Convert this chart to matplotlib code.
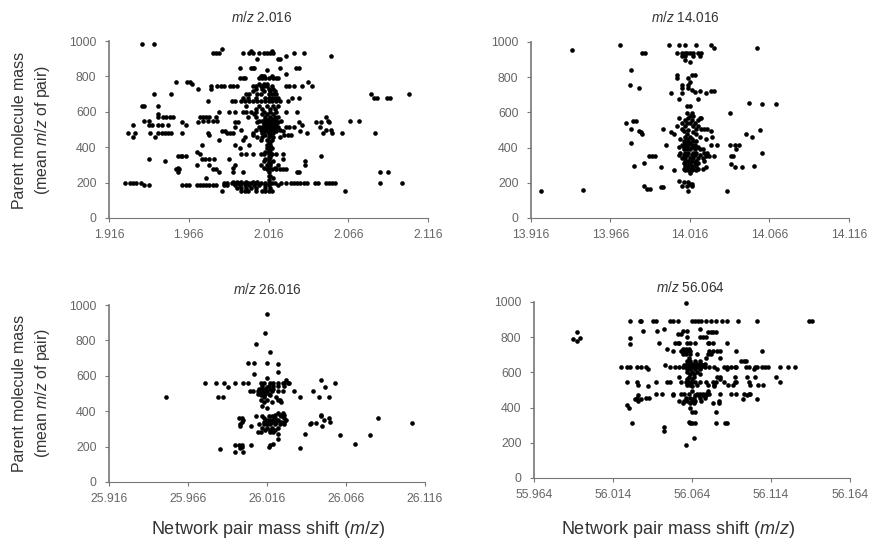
import matplotlib
matplotlib.use('Agg')
import matplotlib.pyplot as plt

plt.rcParams['font.family'] = ['Liberation Sans', 'DejaVu Sans']
plt.rcParams['mathtext.fontset'] = 'custom'
plt.rcParams['mathtext.rm'] = 'Liberation Sans'
plt.rcParams['mathtext.it'] = 'Liberation Sans:italic'

# each dict: parent mass -> mass shifts seen at that mass
rows_2 = {
    985: [1.937, 1.944], 955: [1.987],
    935: [1.981, 1.983, 1.985, 2.000, 2.004, 2.006, 2.010, 2.013, 2.015, 2.017, 2.019, 2.032, 2.038],
    945: [2.018, 2.005], 915: [2.027, 2.055], 900: [2.009, 2.022, 2.023],
    845: [1.998, 2.005, 2.006, 2.007, 2.023, 2.033, 2.035], 835: [2.015], 815: [2.027],
    805: [2.011, 2.012, 2.013, 2.018],
    790: [1.998, 2.000, 2.001, 2.010, 2.012, 2.014, 2.016, 2.019, 2.021, 2.022],
    770: [1.958, 1.965, 1.967, 2.041], 755: [1.968, 2.010, 2.013, 2.015],
    745: [1.980, 1.984, 1.986, 1.988, 1.992, 1.994, 1.996, 2.006, 2.008, 2.011, 2.013, 2.015, 2.018, 2.027, 2.029, 2.032, 2.037, 2.043],
    730: [1.972, 1.980, 2.008, 2.012, 2.016, 2.019],
    715: [2.006, 2.013, 2.017, 2.020],
    700: [1.944, 1.955, 2.002, 2.004, 2.009, 2.011, 2.016, 2.017, 2.019, 2.021, 2.080, 2.104],
    680: [2.082, 2.084, 2.090, 2.092, 2.031, 2.035, 2.000, 2.003, 2.008, 2.014, 2.016, 2.018, 2.020, 2.022],
    660: [1.978, 1.993, 1.995, 1.999, 2.001, 2.004, 2.006, 2.009, 2.011, 2.014, 2.016, 2.018, 2.021, 2.023, 2.028],
    635: [1.937, 1.938, 1.947, 2.002, 2.010, 2.015, 2.019, 2.022],
    615: [2.008, 2.012, 2.017, 2.020],
    600: [1.985, 1.991, 1.995, 2.000, 2.002, 2.005, 2.008, 2.013, 2.017, 2.021, 2.027, 2.034],
    590: [1.947, 2.007, 2.012, 2.015, 2.019],
    570: [1.947, 1.950, 1.952, 1.954, 1.956, 1.973, 1.975, 1.977, 1.979, 1.983, 2.003, 2.008, 2.014, 2.017, 2.020, 2.022, 2.052],
    560: [2.014, 2.016, 2.018, 2.020],
    550: [1.938, 1.941, 1.975, 1.978, 1.981, 1.984, 2.010, 2.012, 2.015, 2.018, 2.021, 2.024, 2.067, 2.073, 2.053],
    540: [1.962, 1.972, 1.995, 1.997, 2.009, 2.013, 2.016, 2.019, 2.022, 2.035, 2.046, 2.049, 2.054],
    530: [2.013, 2.015, 2.017, 2.019, 2.021],
    525: [1.931, 1.941, 1.943, 1.947, 1.949, 1.953, 1.964, 2.037, 2.014, 2.017, 2.020],
    515: [1.995, 2.010, 2.013, 2.016, 2.018, 2.021, 2.027, 2.029, 2.032, 2.048, 2.012, 2.015, 2.019, 2.022],
    505: [2.013, 2.015, 2.017, 2.019],
    500: [1.999, 2.008, 2.011, 2.014, 2.017, 2.020, 2.023, 2.052, 2.055],
    490: [1.987, 1.989, 2.013, 2.015, 2.018, 2.021, 2.036, 2.025],
    480: [1.928, 1.932, 1.942, 1.947, 1.949, 1.951, 1.953, 1.955, 1.962, 1.978, 1.990, 1.992, 1.994, 2.006, 2.012, 2.016, 2.019, 2.040, 2.050, 2.056, 2.062, 2.083],
    470: [1.979, 2.006, 2.014, 2.017, 2.026, 2.028, 2.030],
    460: [1.931, 1.945, 2.001, 2.009, 2.012, 2.016, 2.019, 2.023],
    440: [1.985, 2.000, 2.011, 2.015, 2.018], 428: [2.016, 2.017], 415: [1.974, 1.995, 2.004, 2.015, 2.017],
    405: [2.016, 2.017], 395: [1.998, 2.015, 2.016, 2.018], 385: [2.016, 2.017], 375: [1.971, 2.014, 2.016],
    368: [2.016, 2.017],
    360: [1.973, 1.999, 2.002, 2.006, 2.011, 2.013, 2.016, 2.018, 2.021, 2.025],
    352: [1.959, 1.961, 1.962, 1.964, 2.049],
    345: [2.016, 2.017],
    335: [1.941, 1.974, 1.976, 1.979, 1.982, 1.991, 2.014, 2.016, 2.025],
    320: [1.951, 2.039, 2.013, 2.016, 2.019], 310: [2.016, 2.017],
    300: [1.971, 1.979, 1.995, 2.011, 2.015, 2.017, 2.022, 2.039],
    285: [1.959, 1.994, 2.013, 2.016, 2.020],
    275: [1.958, 1.960, 1.981, 1.983, 2.015, 2.018, 2.021, 2.023, 2.025, 2.027],
    258: [1.959, 1.985, 1.994, 2.000, 2.034, 2.035, 2.086, 2.091, 2.016],
    240: [2.016, 2.017], 225: [1.977, 2.019], 215: [2.016],
    205: [1.994, 1.996, 1.999, 2.002, 2.006, 2.009],
    200: [1.926, 1.929, 1.931, 1.933, 1.936, 1.988, 1.990, 1.993, 1.995, 1.997, 1.999, 2.001, 2.003, 2.005, 2.007, 2.009, 2.011, 2.014, 2.016, 2.018, 2.020, 2.024, 2.027, 2.030, 2.032, 2.034, 2.036, 2.038, 2.040, 2.045, 2.047, 2.052, 2.054, 2.056, 2.058, 2.086, 2.100],
    188: [1.938, 1.941, 1.962, 1.964, 1.966, 1.971, 1.973, 1.975, 1.977, 1.979, 1.981, 1.983, 1.988, 1.990, 1.995, 1.998, 2.001, 2.004, 2.007, 2.010, 2.014, 2.016, 2.022],
    170: [1.996, 1.999, 2.002, 2.005, 2.008, 2.014, 2.017],
    155: [1.987, 1.999, 2.001, 2.003, 2.008, 2.012, 2.014, 2.016, 2.018],
    150: [2.064],
}

rows_14 = {
    985: [13.972, 14.003, 14.009, 14.013, 14.020, 14.029], 968: [14.031, 14.058],
    953: [13.942], 940: [13.986, 13.988, 14.008], 935: [14.011, 14.013, 14.014, 14.016, 14.018, 14.021, 14.023],
    918: [14.011, 14.013, 14.018, 14.022], 900: [14.013], 885: [14.016],
    840: [13.979], 810: [14.008, 14.017, 14.019], 795: [14.008, 14.015], 770: [14.016], 755: [13.978, 14.011, 14.015],
    740: [13.984, 14.011, 14.015], 730: [14.017], 720: [14.022, 14.029, 14.031], 715: [14.019],
    710: [14.004, 14.011, 14.026], 675: [14.009, 14.021], 655: [14.053], 647: [14.061, 14.070],
    635: [14.014, 14.016], 598: [14.041, 14.014, 14.017], 580: [14.016, 14.018],
    570: [14.009, 14.015, 14.022, 14.023], 555: [14.013, 14.017, 14.021], 552: [13.980, 13.982],
    540: [13.976, 14.011, 14.014, 14.016, 14.019], 525: [14.008, 14.013, 14.018, 14.021],
    503: [13.979, 13.999, 14.011, 14.020, 14.023, 14.025, 14.027], 498: [14.060, 14.015],
    495: [13.984, 14.012, 14.029], 487: [13.985, 14.004, 14.018], 475: [13.986, 14.006, 14.051, 14.014, 14.020],
    462: [14.055, 14.013, 14.016, 14.022, 14.030], 450: [14.010, 14.014, 14.017, 14.026],
    435: [14.012, 14.015, 14.018, 14.020], 428: [13.979, 14.013, 14.016],
    417: [14.001, 14.029, 14.033, 14.041, 14.044, 14.047, 14.011, 14.014, 14.017, 14.019],
    405: [14.009, 14.012, 14.015, 14.018, 14.021], 390: [14.045, 14.012, 14.014, 14.016, 14.019, 14.022, 14.024],
    372: [14.061, 14.010, 14.013, 14.015, 14.018, 14.020, 14.025, 14.027],
    360: [14.009, 14.012, 14.014, 14.017, 14.019, 14.022],
    355: [13.990, 13.992, 13.994, 14.042, 14.043, 14.026, 14.028, 14.031],
    340: [14.011, 14.013, 14.016, 14.018, 14.021, 14.024], 325: [14.013, 14.015, 14.017, 14.020, 14.025],
    310: [13.987, 14.012, 14.014, 14.016, 14.019, 14.021], 304: [14.042],
    294: [13.981, 14.056, 14.013, 14.015, 14.017, 14.020], 289: [13.998, 14.044, 14.049, 14.026],
    280: [14.012, 14.014, 14.016, 14.018, 14.021, 14.024], 270: [14.006, 14.013, 14.015, 14.017, 14.020],
    258: [14.016], 208: [14.009], 205: [14.012, 14.015], 195: [14.016, 14.017],
    183: [13.987, 14.011, 14.014, 14.017], 175: [13.998, 13.999], 164: [13.989, 13.991], 158: [13.949],
    153: [13.922, 14.015, 14.039],
}

rows_26 = {
    951: [26.016], 840: [26.015], 777: [26.009], 732: [26.018], 670: [26.004, 26.008, 26.016],
    664: [26.023], 619: [26.023], 608: [26.008], 590: [26.016], 575: [26.028, 26.050],
    562: [26.004, 26.027, 26.029], 557: [25.977, 25.984, 25.989, 25.996, 26.001, 26.012, 26.014, 26.018, 26.020, 26.023, 26.026, 26.030, 26.059],
    545: [26.013, 26.017, 26.020, 26.023, 26.027], 536: [25.991, 26.016, 26.053],
    525: [26.011, 26.013, 26.015, 26.018, 26.020],
    513: [26.005, 26.007, 26.010, 26.012, 26.014, 26.016, 26.019, 26.023, 26.026, 26.033, 26.045],
    500: [26.010, 26.012, 26.015, 26.017], 490: [26.012, 26.014, 26.018],
    479: [25.952, 25.985, 25.988, 26.014, 26.022, 26.037, 26.049, 26.055],
    465: [26.012, 26.016, 26.023, 26.024], 450: [26.014, 26.019, 26.025],
    428: [26.013], 420: [26.016], 388: [26.023, 26.026], 380: [26.021, 26.024, 26.027, 26.050],
    372: [26.009, 26.013, 26.017, 26.019, 26.025, 26.050], 362: [25.998, 26.000, 26.014, 26.021, 26.027, 26.055, 26.086],
    352: [26.016, 26.018, 26.020, 26.023, 26.028, 26.001, 26.052],
    340: [26.000, 26.014, 26.017, 26.019, 26.022, 26.025, 26.027, 26.056],
    335: [26.044, 26.047, 26.108], 325: [26.011, 26.014, 26.016, 26.018, 26.021, 26.024, 26.027, 26.043, 25.999],
    318: [25.999, 26.006, 26.051], 305: [26.013, 26.016, 26.019, 26.023], 295: [26.015, 26.018, 26.021],
    280: [26.010, 26.012, 26.018, 26.020], 272: [26.023, 26.040], 264: [26.062, 26.081], 245: [26.023],
    215: [26.020, 26.072], 210: [25.996, 25.998, 26.000, 26.006, 26.018], 200: [26.017, 26.000],
    192: [26.037, 25.999], 185: [25.986], 172: [25.996, 26.001],
}

rows_56 = {
    994: [56.060], 890: [56.025, 56.031, 56.032, 56.039, 56.041, 56.050, 56.052, 56.055, 56.064, 56.066, 56.068, 56.070, 56.073, 56.076, 56.079, 56.083, 56.086, 56.093, 56.105, 56.138, 56.140],
    847: [56.046, 56.069], 835: [56.033, 56.042, 56.058, 56.061], 830: [55.991, 56.074, 56.076, 56.077, 56.079],
    818: [56.055, 56.057], 800: [56.061, 56.069, 56.071, 56.073], 795: [55.993, 56.025], 790: [55.989], 779: [55.991],
    765: [56.043, 56.053, 56.055, 56.056, 56.061, 56.063, 56.066, 56.074, 56.075, 56.077, 56.086], 760: [56.025],
    735: [56.048, 56.058, 56.060, 56.062], 720: [56.052, 56.057, 56.059, 56.061, 56.063, 56.075, 56.077, 56.080, 56.082, 56.092, 56.108],
    705: [56.058, 56.060, 56.063, 56.067, 56.074, 56.076], 680: [56.062, 56.073, 56.082],
    665: [56.061, 56.063, 56.066, 56.069, 56.095, 56.097, 56.098], 650: [56.061, 56.064, 56.067, 56.070, 56.072],
    640: [56.047, 56.059, 56.062, 56.065, 56.068, 56.071],
    630: [56.019, 56.023, 56.025, 56.029, 56.032, 56.035, 56.050, 56.053, 56.056, 56.058, 56.060, 56.062, 56.064, 56.066, 56.068, 56.070, 56.072, 56.075, 56.078, 56.084, 56.086, 56.089, 56.091, 56.092, 56.098, 56.100, 56.104, 56.105, 56.108, 56.110, 56.112, 56.120, 56.125, 56.129],
    620: [56.061, 56.063, 56.066, 56.069, 56.036, 56.080, 56.086, 56.103],
    605: [56.061, 56.064, 56.067], 590: [56.063, 56.065, 56.069],
    575: [56.056, 56.062, 56.065, 56.080, 56.082, 56.091, 56.099, 56.104, 56.117],
    560: [56.061, 56.064, 56.082],
    545: [56.023, 56.029, 56.041, 56.048, 56.050, 56.057, 56.060, 56.062, 56.064, 56.066, 56.069, 56.073, 56.077, 56.079, 56.084, 56.091, 56.092, 56.100, 56.120],
    530: [56.030, 56.061, 56.063, 56.067, 56.074, 56.078, 56.087, 56.090, 56.101, 56.106, 56.109],
    520: [56.036, 56.064, 56.078],
    495: [56.064, 56.074], 480: [56.041, 56.045, 56.052, 56.057, 56.059, 56.062, 56.067, 56.069, 56.071, 56.073, 56.075, 56.082, 56.089, 56.092, 56.097, 56.100, 56.101],
    470: [56.030, 56.052, 56.066, 56.068, 56.071, 56.073, 56.099],
    455: [56.029, 56.035, 56.037, 56.060, 56.063, 56.065, 56.069, 56.072],
    448: [56.028, 56.032, 56.096, 56.105], 435: [56.030, 56.056, 56.059, 56.061, 56.064, 56.066, 56.070, 56.081],
    425: [56.058, 56.063, 56.065, 56.077, 56.081], 412: [56.023], 400: [56.024, 56.063],
    375: [56.064, 56.066, 56.079], 318: [56.062], 310: [56.026, 56.063, 56.064, 56.066, 56.079, 56.085, 56.086],
    290: [56.046], 265: [56.046], 230: [56.065], 185: [56.060],
}

# (rows, label, x ticks, axes left/top/right/bottom in px, title centre, title y)
panels = [
    (rows_2, '2.016', [1.916, 1.966, 2.016, 2.066, 2.116], (109, 41, 428, 218), 262, 18),
    (rows_14, '14.016', [13.916, 13.966, 14.016, 14.066, 14.116], (531, 42, 849, 218), 685, 18),
    (rows_26, '26.016', [25.916, 25.966, 26.016, 26.066, 26.116], (109, 305, 425, 482), 267, 290),
    (rows_56, '56.064', [55.964, 56.014, 56.064, 56.114, 56.164], (534, 302, 850, 478), 690, 287),
]

W, H = 870, 544
fig = plt.figure(figsize=(W / 100, H / 100), dpi=100)

for rows, name, xticks, box, tx, ty in panels:
    l, t, r, b = box
    ax = fig.add_axes([l / W, 1 - b / H, (r - l) / W, (b - t) / H])
    xs = []
    ys = []
    for mass, shifts in rows.items():
        xs += shifts
        ys += [mass] * len(shifts)
    ax.scatter(xs, ys, s=11, c='black', linewidths=0, zorder=3, clip_on=False)
    ax.set_xlim(xticks[0], xticks[-1])
    ax.set_ylim(0, 1000)
    ax.set_xticks(xticks)
    ax.set_xticklabels(['%.3f' % v for v in xticks])
    ax.set_yticks([0, 200, 400, 600, 800, 1000])
    ax.spines['top'].set_visible(False)
    ax.spines['right'].set_visible(False)
    ax.spines['left'].set_color('#777777')
    ax.spines['left'].set_linewidth(1.2)
    ax.spines['bottom'].set_color('#777777')
    ax.tick_params(length=3, width=0.8, color='#777777', labelcolor='#666666', labelsize=8.8)
    ax.tick_params(axis='x', pad=5)
    ax.tick_params(axis='y', pad=6)
    fig.text(tx / W, 1 - ty / H, r'$\it{m/z}$ ' + name, ha='center', va='center', fontsize=9.8, color='#333333')

for yc in (130, 393):
    fig.text(32 / W, 1 - yc / H, 'Parent molecule mass\n' + r'(mean $\it{m/z}$ of pair)', rotation=90,
             ha='center', va='center', ma='center', fontsize=11.4, color='#333333', linespacing=1.4)

for xc in (268, 678):
    fig.text(xc / W, 1 - 529 / H, r'Network pair mass shift ($\it{m/z}$)', ha='center', va='center',
             fontsize=13, color='#333333')

fig.savefig('out.png', dpi=100)
